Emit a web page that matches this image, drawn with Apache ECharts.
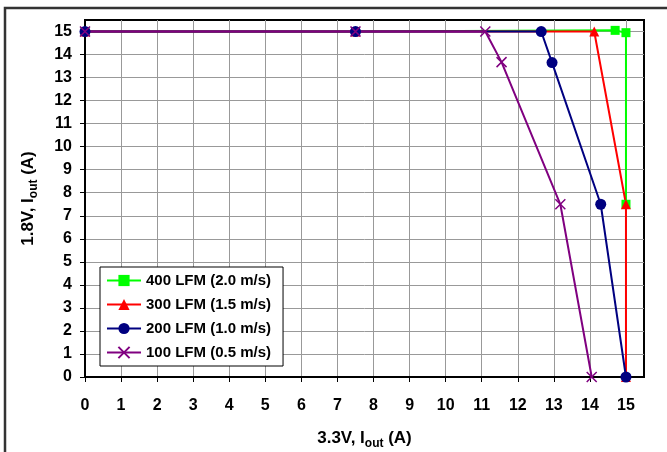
<!DOCTYPE html>
<html>
<head>
<meta charset="utf-8">
<script src="https://cdn.jsdelivr.net/npm/echarts@6/dist/echarts.min.js"></script>
<style>
html,body{margin:0;padding:0;background:#fff;}
#c{width:667px;height:452px;}
</style>
</head>
<body>
<div id="c"></div>
<script>
var seriesNames = ['400 LFM (2.0 m/s)', '300 LFM (1.5 m/s)', '200 LFM (1.0 m/s)', '100 LFM (0.5 m/s)'];
var x400 = [0, 7.5, 14.7, 15, 15];
var y400 = [15, 15, 15.05, 14.95, 7.5];
var x300 = [0, 7.5, 14.12, 15, 15];
var y300 = [15, 15, 15, 7.5, 0];
var x200 = [0, 7.5, 12.65, 12.95, 14.3, 15];
var y200 = [15, 15, 15, 13.65, 7.5, 0];
var x100 = [0, 7.5, 11.1, 11.55, 13.18, 14.05];
var y100 = [15, 15, 15, 13.67, 7.5, 0];
var xTicks = [0,1,2,3,4,5,6,7,8,9,10,11,12,13,14,15];
var yTicks = [0,1,2,3,4,5,6,7,8,9,10,11,12,13,14,15];
var xTitle = ['3.3V, I', 'out', ' (A)'];
var yTitle = ['1.8V, I', 'out', ' (A)'];

function pairs(xs, ys){ return xs.map(function(x,i){ return [x, ys[i]]; }); }
var FONT = "'Liberation Sans', Arial, sans-serif";
var rich = {
  b: {fontSize: 17, fontWeight: 'bold', color: '#000', fontFamily: FONT, lineHeight: 24},
  s: {fontSize: 12, fontWeight: 'bold', color: '#000', fontFamily: FONT, verticalAlign: 'bottom', lineHeight: 14}
};
function richName(t){ return '{b|' + t[0] + '}{s|' + t[1] + '}{b|' + t[2] + '}'; }

var colors = ['#00FF00', '#FF0000', '#000080', '#800080'];
var symbols = ['rect', 'triangle', 'circle', 'path://M0,0L10,10M10,0L0,10'];
var sizes = [9, 10, 11, 10];
var datas = [pairs(x400,y400), pairs(x300,y300), pairs(x200,y200), pairs(x100,y100)];

var series = seriesNames.map(function(n, i){
  var s = {
    name: n, type: 'line', data: datas[i],
    symbol: symbols[i], symbolSize: sizes[i],
    showAllSymbol: true, animation: false,
    lineStyle: {color: colors[i], width: 2},
    itemStyle: {color: colors[i], borderWidth: 0},
    emphasis: {disabled: true}
  };
  if (i === 3) {
    s.itemStyle = {color: 'rgba(0,0,0,0)', borderColor: colors[i], borderWidth: 1.5};
  }
  return s;
});

var chart = echarts.init(document.getElementById('c'), null, {renderer: 'canvas'});
chart.setOption({
  animation: false,
  backgroundColor: '#fff',
  graphic: [{
    type: 'rect', shape: {x: 5, y: 8, width: 700, height: 500},
    style: {fill: 'none', stroke: '#333', lineWidth: 2.5}, z: -10, silent: true
  }],
  grid: {left: 85, top: 20, right: 23, bottom: 75, show: true, borderColor: '#000', borderWidth: 2, backgroundColor: '#fff', outerBoundsMode: 'none', containLabel: false},
  legend: {
    orient: 'vertical', left: 100, top: 267,
    data: seriesNames,
    backgroundColor: '#fff', borderColor: '#000', borderWidth: 1,
    padding: [6, 12, 6, 6],
    itemWidth: 34, itemHeight: 14, itemGap: 9,
    textStyle: {fontSize: 15, fontWeight: 'bold', color: '#000', fontFamily: FONT},
    selectedMode: false
  },
  xAxis: {
    type: 'value', min: 0, max: 15.5, interval: 1,
    name: richName(xTitle), nameLocation: 'middle', nameGap: 49,
    nameTextStyle: {rich: rich},
    axisLine: {show: true, lineStyle: {color: '#000', width: 2}},
    axisTick: {show: true, inside: false, length: 5, lineStyle: {color: '#000'}, customValues: xTicks},
    axisLabel: {customValues: xTicks, fontSize: 16, fontWeight: 'bold', color: '#000', fontFamily: FONT, margin: 21},
    splitLine: {show: true, lineStyle: {color: '#999', width: 1}}
  },
  yAxis: {
    type: 'value', min: 0, max: 15.5, interval: 1,
    name: richName(yTitle), nameLocation: 'middle', nameGap: 45, nameRotate: 90,
    nameTextStyle: {rich: rich},
    axisLine: {show: true, lineStyle: {color: '#000', width: 2}},
    axisTick: {show: true, inside: false, length: 5, lineStyle: {color: '#000'}, customValues: yTicks},
    axisLabel: {customValues: yTicks, fontSize: 16, fontWeight: 'bold', color: '#000', fontFamily: FONT, margin: 13},
    splitLine: {show: true, lineStyle: {color: '#999', width: 1}}
  },
  series: series
});
</script>
</body>
</html>
